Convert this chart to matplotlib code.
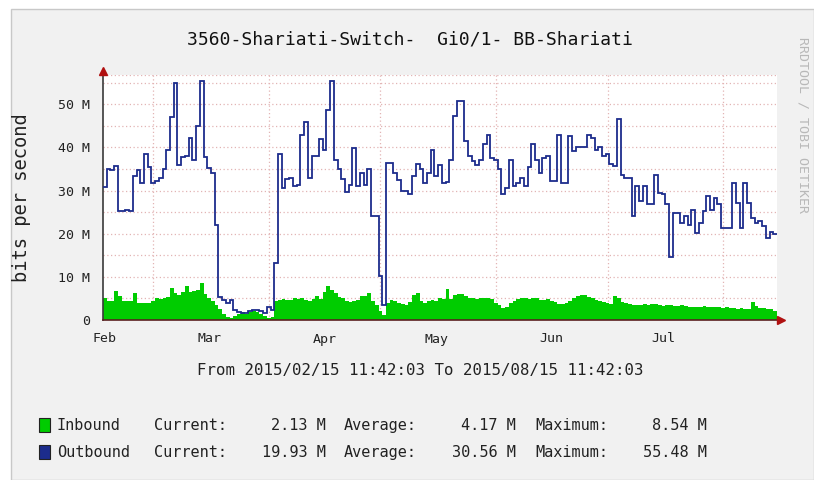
import datetime as dt
import numpy as np
import matplotlib
matplotlib.use("Agg")
import matplotlib.pyplot as plt
import matplotlib.dates as mdates
from matplotlib.patches import Rectangle

# daily averages, Mbit/s, starting 2015-02-15 11:42:03
outbound = [
    30.8, 34.9, 34.7, 35.7, 25.3, 25.3, 25.5, 25.2, 33.5, 34.8,
    31.8, 38.4, 35.5, 31.8, 32.3, 33.0, 35.0, 39.5, 47.0, 55.0,
    36.0, 37.8, 38.0, 42.2, 37.0, 45.0, 55.5, 37.8, 35.3, 34.1,
    22.1, 5.4, 4.7, 3.9, 4.6, 2.3, 1.9, 1.7, 1.6, 2.0,
    2.3, 2.3, 2.2, 1.6, 3.1, 2.3, 13.2, 38.4, 30.6, 32.6,
    33.0, 31.0, 31.4, 43.0, 45.8, 33.0, 38.0, 38.0, 41.9, 39.5,
    48.8, 55.5, 37.2, 35.0, 32.6, 29.6, 31.4, 39.9, 31.0, 34.0,
    31.4, 34.9, 24.0, 24.0, 10.1, 3.5, 36.4, 36.4, 34.1, 32.5,
    29.8, 30.0, 29.3, 33.5, 36.2, 35.0, 31.8, 34.1, 39.5, 33.3,
    36.0, 31.8, 32.0, 37.2, 47.3, 50.8, 50.8, 41.5, 38.0, 36.8,
    36.0, 37.2, 40.7, 43.0, 37.6, 37.2, 34.9, 29.1, 30.6, 37.2,
    31.0, 31.8, 33.0, 31.0, 35.5, 40.7, 37.2, 34.1, 37.6, 38.1,
    32.2, 32.2, 43.0, 31.8, 31.8, 42.6, 39.1, 40.2, 40.2, 40.2,
    43.0, 42.2, 39.5, 40.1, 38.0, 38.4, 36.1, 35.7, 46.5, 33.7,
    33.0, 33.0, 24.0, 31.0, 27.5, 31.0, 26.8, 27.0, 33.7, 29.5,
    29.1, 27.0, 14.7, 24.8, 24.8, 22.5, 24.0, 22.1, 25.6, 20.2,
    22.5, 25.2, 28.7, 25.6, 28.3, 27.0, 21.3, 21.3, 21.3, 31.8,
    27.1, 21.3, 31.8, 27.1, 23.6, 22.5, 22.9, 21.7, 19.0, 20.3,
    19.93,
]
inbound = [
    5.0, 4.3, 4.3, 6.8, 5.5, 4.3, 4.3, 4.5, 6.3, 4.0,
    3.9, 3.9, 4.0, 4.5, 5.0, 4.8, 5.0, 5.4, 7.5, 6.2,
    5.8, 6.5, 7.8, 6.6, 6.8, 7.0, 8.5, 6.0, 5.0, 4.5,
    3.5, 2.5, 1.5, 0.8, 0.5, 1.0, 1.5, 1.8, 1.5, 1.8,
    2.0, 1.8, 1.5, 1.0, 0.5, 0.8, 4.5, 4.6, 4.8, 4.6,
    4.7, 5.0, 4.8, 5.0, 4.6, 4.5, 4.8, 5.6, 4.8, 6.5,
    7.8, 7.0, 6.3, 5.3, 5.0, 4.3, 4.2, 4.5, 4.6, 5.5,
    5.6, 6.2, 4.5, 3.5, 2.0, 1.2, 4.0, 4.6, 4.5, 4.0,
    3.7, 3.5, 4.2, 5.8, 6.3, 4.5, 3.9, 4.4, 4.6, 4.3,
    5.0, 4.8, 7.2, 4.8, 5.8, 6.0, 6.0, 5.5, 5.0, 5.0,
    4.8, 5.0, 5.0, 5.0, 4.8, 4.0, 3.5, 2.7, 3.0, 4.0,
    4.5, 4.8, 5.0, 5.2, 4.9, 5.0, 5.1, 4.6, 4.6, 4.8,
    4.4, 4.2, 3.8, 3.6, 3.9, 4.5, 5.0, 5.5, 5.7, 5.7,
    5.4, 5.0, 4.6, 4.5, 4.2, 3.9, 3.8, 5.6, 5.2, 4.2,
    3.9, 3.6, 3.5, 3.4, 3.5, 3.6, 3.4, 3.7, 3.8, 3.5,
    3.3, 3.5, 3.4, 3.2, 3.3, 3.4, 3.2, 3.0, 3.1, 2.9,
    3.0, 3.2, 3.0, 2.9, 3.0, 3.1, 2.8, 2.9, 2.7, 2.8,
    2.6, 2.7, 2.5, 2.6, 4.2, 3.2, 2.8, 2.7, 2.6, 2.5,
    2.13,
]

series_names = ["Inbound", "Outbound"]
series_colors = ["#00cc00", "#1c2c8c"]
stat_current = ["2.13 M", "19.93 M"]
stat_average = ["4.17 M", "30.56 M"]
stat_maximum = ["8.54 M", "55.48 M"]

y_ticks = [0, 10, 20, 30, 40, 50]
y_tick_labels = ["0", "10 M", "20 M", "30 M", "40 M", "50 M"]
month_labels = ["Feb", "Mar", "Apr", "May", "Jun", "Jul"]

title = "3560-Shariati-Switch-  Gi0/1- BB-Shariati"
period = "From 2015/02/15 11:42:03 To 2015/08/15 11:42:03"

start = dt.datetime(2015, 2, 15, 11, 42, 3)
end = dt.datetime(2015, 8, 15, 11, 42, 3)

W, H = 814, 480
MONO = "DejaVu Sans Mono"


def fx(x):
    return x / W


def fy(y):
    return 1 - y / H


fig = plt.figure(figsize=(W / 100, H / 100), dpi=100, facecolor="white")
fig.patches.append(Rectangle((fx(11), 0), 1 - fx(11), fy(9), transform=fig.transFigure,
                             facecolor="#f1f1f1", edgecolor="#c8c8c8", linewidth=1.0,
                             zorder=-10))

ax = fig.add_axes([fx(103), fy(320), fx(777) - fx(103), fy(75) - fy(320)])
ax.set_facecolor("white")

edges = mdates.date2num([start + dt.timedelta(days=i) for i in range(len(outbound) + 1)])
ax.stairs(inbound, edges, fill=True, color=series_colors[0], linewidth=0, zorder=2)
ax.stairs(outbound, edges, baseline=None, color=series_colors[1], linewidth=1.3, zorder=3)

ax.set_xlim(mdates.date2num(start), mdates.date2num(end))
ax.set_ylim(0, 56.8)

# grid: 5M horizontal, month starts vertical
grid_col = "#e2b4b4"
for v in np.arange(5, 56, 5):
    ax.axhline(v, color=grid_col, linestyle=(0, (1, 2)), linewidth=0.9, zorder=1)
ax.axhline(56.8, color=grid_col, linestyle=(0, (1, 2)), linewidth=0.9, zorder=1)
for m in range(3, 9):
    ax.axvline(mdates.date2num(dt.datetime(2015, m, 1)), color=grid_col,
               linestyle=(0, (1, 2)), linewidth=0.9, zorder=1)

ax.set_yticks(y_ticks, y_tick_labels)
label_pos = [mdates.date2num(dt.datetime(2015, m, 16)) for m in range(2, 8)]
ax.set_xticks(label_pos, month_labels)
ax.tick_params(axis="both", length=0, labelsize=9.5, colors="#222222", pad=9)
for lab in ax.get_xticklabels() + ax.get_yticklabels():
    lab.set_family(MONO)

for s in ["top", "right"]:
    ax.spines[s].set_visible(False)
ax.spines["left"].set_color("#3a3a3a")
ax.spines["bottom"].set_color("#5a2020")
ax.spines["left"].set_linewidth(1.2)
ax.spines["bottom"].set_linewidth(1.2)
ax.plot([0], [1.015], marker="^", color="#b01010", markersize=6, transform=ax.transAxes,
        clip_on=False, zorder=5)
ax.plot([1.006], [0], marker=">", color="#b01010", markersize=6, transform=ax.transAxes,
        clip_on=False, zorder=5)

fig.text(fx(410), fy(40), title, family=MONO, fontsize=13, ha="center", va="center", color="#111111")
fig.text(fx(22), fy(198), "bits per second", family=MONO, fontsize=13.5, rotation=90,
         ha="center", va="center", color="#222222")
fig.text(fx(420), fy(370), period, family=MONO, fontsize=11.3, ha="center", va="center", color="#222222")
fig.text(fx(803), fy(125), "RRDTOOL / TOBI OETIKER", family=MONO, fontsize=9.5, rotation=-90,
         ha="center", va="center", color="#b8b8b8")

row_y = [425, 452]
for i in range(2):
    y = row_y[i]
    fig.patches.append(Rectangle((fx(39), fy(y + 7)), fx(11), fy(y - 7) - fy(y + 7),
                                 transform=fig.transFigure, facecolor=series_colors[i],
                                 edgecolor="#222222", linewidth=0.8))
    kw = dict(family=MONO, fontsize=11, va="baseline", color="#222222")
    yb = fy(y + 5)
    fig.text(fx(57), yb, series_names[i], ha="left", **kw)
    fig.text(fx(154), yb, "Current:", ha="left", **kw)
    fig.text(fx(326), yb, stat_current[i], ha="right", **kw)
    fig.text(fx(344), yb, "Average:", ha="left", **kw)
    fig.text(fx(516), yb, stat_average[i], ha="right", **kw)
    fig.text(fx(535), yb, "Maximum:", ha="left", **kw)
    fig.text(fx(707), yb, stat_maximum[i], ha="right", **kw)

fig.savefig("out.png", dpi=100, facecolor=fig.get_facecolor())
